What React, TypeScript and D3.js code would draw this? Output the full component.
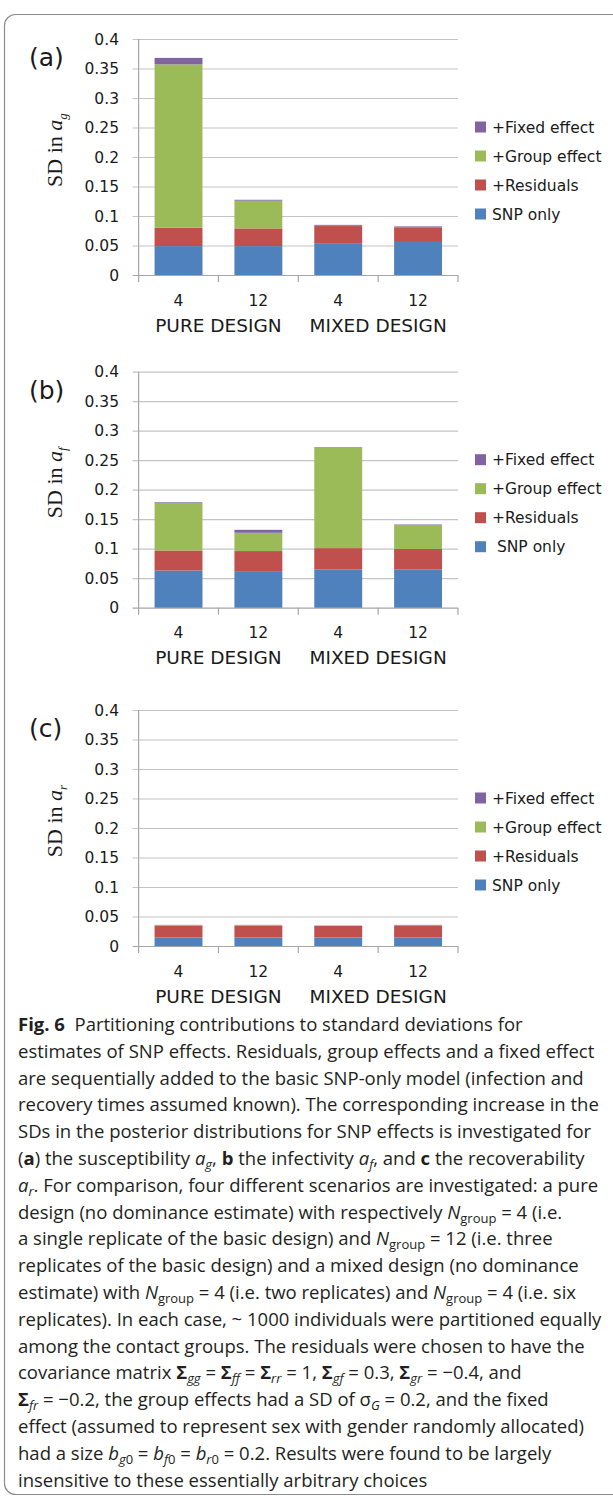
import React, { useEffect, useRef } from "react";
import * as d3 from "d3";

const categories = ["4", "12", "4", "12"];
const designs = ["PURE DESIGN", "MIXED DESIGN"];
const seriesNames = ["SNP only", "+Residuals", "+Group effect", "+Fixed effect"];
const seriesColors = ["#4f81bd", "#c0504d", "#9bbb59", "#8064a2"];
const yTicks = [0, 0.05, 0.1, 0.15, 0.2, 0.25, 0.3, 0.35, 0.4];

// SD reached after each model step (cumulative, stacked), one value per bar
const agSnp = [0.049, 0.049, 0.054, 0.056];
const agResid = [0.08, 0.079, 0.083, 0.081];
const agGroup = [0.357, 0.126, 0.0835, 0.0815];
const agFixed = [0.368, 0.1275, 0.085, 0.0825];

const afSnp = [0.063, 0.062, 0.065, 0.065];
const afResid = [0.097, 0.096, 0.101, 0.0995];
const afGroup = [0.178, 0.127, 0.271, 0.14];
const afFixed = [0.179, 0.132, 0.272, 0.141];

const arSnp = [0.0145, 0.0145, 0.0145, 0.0145];
const arResid = [0.034, 0.034, 0.0343, 0.035];
const arGroup = [0.0352, 0.0352, 0.0345, 0.0355];
const arFixed = [0.0358, 0.0358, 0.0347, 0.0358];

const panels = [
  { tag: "(a)", sub: "g", top: 39, levels: [agSnp, agResid, agGroup, agFixed], snpLabel: "SNP only" },
  { tag: "(b)", sub: "f", top: 371.7, levels: [afSnp, afResid, afGroup, afFixed], snpLabel: " SNP only" },
  { tag: "(c)", sub: "r", top: 710, levels: [arSnp, arResid, arGroup, arFixed], snpLabel: "SNP only" },
];

// caption lines: [text, style]  n normal, b bold, i italic, s subscript, is italic subscript
const caption = [
  [["Fig. 6", "b"], ["  Partitioning contributions to standard deviations for", "n"]],
  [["estimates of SNP effects. Residuals, group effects and a fixed effect", "n"]],
  [["are sequentially added to the basic SNP-only model (infection and", "n"]],
  [["recovery times assumed known). The corresponding increase in the", "n"]],
  [["SDs in the posterior distributions for SNP effects is investigated for", "n"]],
  [["(", "n"], ["a", "b"], [") the susceptibility ", "n"], ["a", "i"], ["g", "is"], [", ", "n"], ["b", "b"], [" the infectivity ", "n"], ["a", "i"], ["f", "is"], [", and ", "n"], ["c", "b"], [" the recoverability", "n"]],
  [["a", "i"], ["r", "is"], [". For comparison, four different scenarios are investigated: a pure", "n"]],
  [["design (no dominance estimate) with respectively ", "n"], ["N", "i"], ["group", "s"], [" = 4 (i.e.", "n"]],
  [["a single replicate of the basic design) and ", "n"], ["N", "i"], ["group", "s"], [" = 12 (i.e. three", "n"]],
  [["replicates of the basic design) and a mixed design (no dominance", "n"]],
  [["estimate) with ", "n"], ["N", "i"], ["group", "s"], [" = 4 (i.e. two replicates) and ", "n"], ["N", "i"], ["group", "s"], [" = 4 (i.e. six", "n"]],
  [["replicates). In each case, ~ 1000 individuals were partitioned equally", "n"]],
  [["among the contact groups. The residuals were chosen to have the", "n"]],
  [["covariance matrix ", "n"], ["Σ", "b"], ["gg", "is"], [" = ", "n"], ["Σ", "b"], ["ff", "is"], [" = ", "n"], ["Σ", "b"], ["rr", "is"], [" = 1, ", "n"], ["Σ", "b"], ["gf", "is"], [" = 0.3, ", "n"], ["Σ", "b"], ["gr", "is"], [" = −0.4, and", "n"]],
  [["Σ", "b"], ["fr", "is"], [" = −0.2, the group effects had a SD of σ", "n"], ["G", "is"], [" = 0.2, and the fixed", "n"]],
  [["effect (assumed to represent sex with gender randomly allocated)", "n"]],
  [["had a size ", "n"], ["b", "i"], ["g", "is"], ["0", "s"], [" = ", "n"], ["b", "i"], ["f", "is"], ["0", "s"], [" = ", "n"], ["b", "i"], ["r", "is"], ["0", "s"], [" = 0.2. Results were found to be largely", "n"]],
  [["insensitive to these essentially arbitrary choices", "n"]],
];

const chartFont = "'DejaVu Sans', Verdana, sans-serif";

function drawPanel(svg, p) {
  const x0 = 138.6;
  const x1 = 458;
  const h = 236;
  const g = svg.append("g").attr("transform", `translate(0,${p.top})`);

  const x = d3
    .scaleBand()
    .domain(categories.map((c, i) => String(i)))
    .range([x0, x1])
    .paddingInner(0.4)
    .paddingOuter(0.2);
  const y = d3.scaleLinear().domain([0, 0.4]).range([h, 0]);
  const step = x.step();

  // gridlines
  g.selectAll("line.grid")
    .data(yTicks)
    .join("line")
    .attr("x1", x0 - 6)
    .attr("x2", x1)
    .attr("y1", (d) => y(d) + 0.5)
    .attr("y2", (d) => y(d) + 0.5)
    .attr("stroke", (d) => (d === 0 ? "#a6a6a6" : "#c4c4c4"))
    .attr("stroke-width", 1.2);

  // y axis line and category tick marks
  g.append("line")
    .attr("x1", x0).attr("x2", x0)
    .attr("y1", y(0.4)).attr("y2", h + 7)
    .attr("stroke", "#a6a6a6").attr("stroke-width", 1.2);
  g.selectAll("line.xtick")
    .data(d3.range(1, categories.length + 1))
    .join("line")
    .attr("x1", (d) => x0 + d * step)
    .attr("x2", (d) => x0 + d * step)
    .attr("y1", h)
    .attr("y2", h + 7)
    .attr("stroke", "#a6a6a6").attr("stroke-width", 1.2);

  g.selectAll("text.ytick")
    .data(yTicks)
    .join("text")
    .attr("x", 119)
    .attr("y", (d) => y(d))
    .attr("dy", "0.36em")
    .attr("text-anchor", "end")
    .attr("font-family", chartFont)
    .attr("font-size", 15.5)
    .attr("fill", "#1a1a1a")
    .text((d) => String(d));

  // stacked bars
  categories.forEach((c, i) => {
    seriesNames.forEach((s, k) => {
      const lo = k === 0 ? 0 : p.levels[k - 1][i];
      const hi = p.levels[k][i];
      g.append("rect")
        .attr("x", x(String(i)))
        .attr("width", x.bandwidth())
        .attr("y", y(hi))
        .attr("height", Math.max(0, y(lo) - y(hi)))
        .attr("fill", seriesColors[k]);
    });
  });

  g.selectAll("text.cat")
    .data(categories)
    .join("text")
    .attr("x", (d, i) => x(String(i)) + x.bandwidth() / 2)
    .attr("y", h + 25)
    .attr("dy", "0.36em")
    .attr("text-anchor", "middle")
    .attr("font-family", chartFont)
    .attr("font-size", 15.5)
    .attr("fill", "#1a1a1a")
    .text((d) => d);

  g.selectAll("text.design")
    .data(designs)
    .join("text")
    .attr("x", (d, gi) => x0 + (gi * 2 + 1) * step)
    .attr("y", h + 50)
    .attr("dy", "0.36em")
    .attr("text-anchor", "middle")
    .attr("font-family", chartFont)
    .attr("font-size", 18.5)
    .attr("fill", "#1a1a1a")
    .text((d) => d);

  // panel tag
  g.append("text")
    .attr("x", 29)
    .attr("y", 27)
    .attr("font-family", chartFont)
    .attr("font-size", 25)
    .attr("fill", "#1a1a1a")
    .text(p.tag);

  // axis title
  const t = g.append("text")
    .attr("transform", `translate(62,111) rotate(-90)`)
    .attr("text-anchor", "middle")
    .attr("font-family", "'Liberation Serif', 'Times New Roman', serif")
    .attr("font-size", 22)
    .attr("fill", "#1a1a1a");
  t.append("tspan").text("SD in ");
  t.append("tspan").attr("font-style", "italic").text("a");
  t.append("tspan").attr("font-style", "italic").attr("font-size", 13).attr("dy", 5).text(p.sub);

  // legend, top entry is the last series
  const legendNames = seriesNames.map((s, k) => (k === 0 ? p.snpLabel : s));
  const order = d3.range(seriesNames.length).reverse();
  order.forEach((k, row) => {
    const cy = 88 + row * 29;
    g.append("rect")
      .attr("x", 475).attr("y", cy - 5.5)
      .attr("width", 11).attr("height", 11)
      .attr("fill", seriesColors[k]);
    g.append("text")
      .attr("x", 492).attr("y", cy)
      .attr("dy", "0.36em")
      .attr("font-family", chartFont)
      .attr("font-size", 15.5)
      .attr("fill", "#1a1a1a")
      .style("white-space", "pre")
      .text(legendNames[k]);
  });
}

function drawCaption(svg) {
  const g = svg.append("g");
  caption.forEach((line, li) => {
    const t = g.append("text")
      .attr("x", 18)
      .attr("y", 1031 + li * 26.8)
      .attr("font-family", "'Open Sans', sans-serif")
      .attr("font-size", 18.5)
      .attr("fill", "#231f20")
      .style("white-space", "pre");
    let shifted = false;
    line.forEach(([txt, st]) => {
      const sp = t.append("tspan").text(txt);
      const isSub = st === "s" || st === "is";
      if (st === "b") sp.attr("font-weight", "bold");
      if (st === "i" || st === "is") sp.attr("font-style", "italic");
      if (isSub) sp.attr("font-size", 13);
      if (isSub && !shifted) sp.attr("dy", 4);
      if (!isSub && shifted) sp.attr("dy", -4);
      shifted = isSub;
    });
  });
}

export default function App() {
  const ref = useRef(null);
  useEffect(() => {
    const svg = d3.select(ref.current);
    svg.selectAll("*").remove();
    svg.append("rect").attr("width", 613).attr("height", 1497).attr("fill", "#fff");
    svg.append("rect")
      .attr("x", 4.5).attr("y", 14.5)
      .attr("width", 700).attr("height", 1480)
      .attr("rx", 11)
      .attr("fill", "none")
      .attr("stroke", "#8c8c8c")
      .attr("stroke-width", 1.2);
    panels.forEach((p) => drawPanel(svg, p));
    drawCaption(svg);
  }, []);
  return (
    <svg
      ref={ref}
      width={613}
      height={1497}
      style={{ position: "absolute", left: 0, top: 0 }}
    />
  );
}
